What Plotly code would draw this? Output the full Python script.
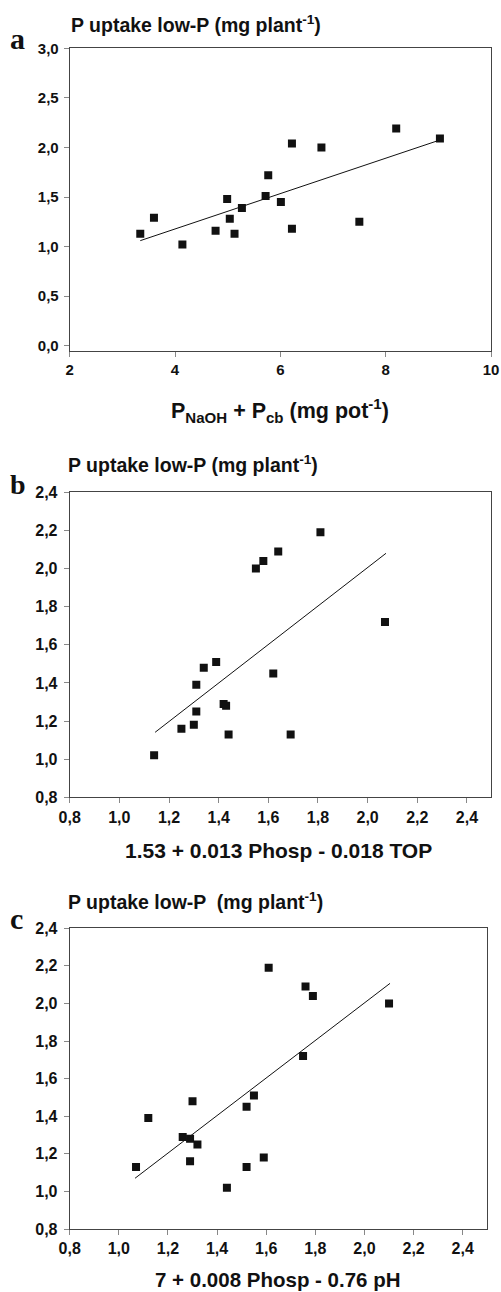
import plotly.graph_objects as go

# ---- data ----
xa = [3.34, 3.60, 4.14, 4.77, 4.99, 5.04, 5.13, 5.27, 5.72, 5.77, 6.01, 6.22, 6.22, 6.78, 7.50, 8.20, 9.03]
ya = [1.13, 1.29, 1.02, 1.16, 1.48, 1.28, 1.13, 1.39, 1.51, 1.72, 1.45, 2.04, 1.18, 2.00, 1.25, 2.19, 2.09]
fit_a_x = [3.34, 9.03]
fit_a_y = [1.06, 2.075]

xb = [1.14, 1.25, 1.30, 1.31, 1.31, 1.34, 1.39, 1.42, 1.43, 1.44, 1.55, 1.58, 1.64, 1.62, 1.69, 1.81, 2.07]
yb = [1.02, 1.16, 1.18, 1.25, 1.39, 1.48, 1.51, 1.29, 1.28, 1.13, 2.00, 2.04, 2.09, 1.45, 1.13, 2.19, 1.72]
fit_b_x = [1.144, 2.074]
fit_b_y = [1.141, 2.08]

xc = [1.07, 1.12, 1.26, 1.29, 1.29, 1.30, 1.32, 1.44, 1.52, 1.52, 1.55, 1.59, 1.61, 1.75, 1.76, 1.79, 2.10]
yc = [1.13, 1.39, 1.29, 1.28, 1.16, 1.48, 1.25, 1.02, 1.45, 1.13, 1.51, 1.18, 2.19, 1.72, 2.09, 2.04, 2.00]
fit_c_x = [1.066, 2.104]
fit_c_y = [1.07, 2.107]

y_title = "P uptake low-P (mg plant<sup>-1</sup>)"
y_title_c = "P uptake low-P  (mg plant<sup>-1</sup>)"
x_title_a = "P<sub>NaOH</sub> + P<sub>cb</sub> (mg pot<sup>-1</sup>)"
x_title_b = "1.53 + 0.013 Phosp - 0.018 TOP"
x_title_c = "7 + 0.008 Phosp - 0.76 pH"

W, H = 501, 1292
def px(x):
    return x / W
def py(y):
    return 1 - y / H

FONT = "Liberation Sans, Arial, sans-serif"
SERIF = "Liberation Serif, Times New Roman, serif"
TXT = "#111111"

fig = go.Figure()
panels = [
    ("", xa, ya, fit_a_x, fit_a_y),
    ("2", xb, yb, fit_b_x, fit_b_y),
    ("3", xc, yc, fit_c_x, fit_c_y),
]
for sfx, xs, ys, fx, fy in panels:
    fig.add_trace(go.Scatter(x=fx, y=fy, mode="lines", line=dict(color="#111111", width=1),
                             xaxis="x" + sfx, yaxis="y" + sfx, showlegend=False, hoverinfo="skip"))
    fig.add_trace(go.Scatter(x=xs, y=ys, mode="markers",
                             marker=dict(symbol="square", size=8, color="#111111", line=dict(width=0)),
                             xaxis="x" + sfx, yaxis="y" + sfx, showlegend=False))

def tf(sz):
    return dict(family=FONT, size=sz, color=TXT, weight="bold")

common = dict(showgrid=False, zeroline=False, showline=True, mirror=True, linecolor="#444444",
              linewidth=1, ticks="outside", ticklen=5, tickcolor="#888888", tickwidth=1,
              automargin=False, ticklabeloverflow="allow")

layout = dict(
    template="none",
    width=W, height=H, margin=dict(l=0, r=0, t=0, b=0, pad=0), autosize=False,
    paper_bgcolor="white", plot_bgcolor="white", separators=",.",
    xaxis=dict(common, domain=[px(69.7), px(491)], range=[2, 10], tick0=2, dtick=2, anchor="y",
               tickformat="d", tickfont=tf(15)),
    yaxis=dict(common, domain=[py(350.7), py(48.3)], range=[-0.05, 3.0], tick0=0, dtick=0.5, anchor="x",
               tickformat=".1f", tickfont=tf(15), ticklabelstandoff=2),
    xaxis2=dict(common, domain=[px(69.7), px(491)], range=[0.8, 2.497], tick0=0.8, dtick=0.2, anchor="y2",
                tickformat=".1f", tickfont=tf(16)),
    yaxis2=dict(common, domain=[py(797.3), py(492.3)], range=[0.8, 2.4], tick0=0.8, dtick=0.2, anchor="x2",
                tickformat=".1f", tickfont=tf(16), ticklabelstandoff=3),
    xaxis3=dict(common, domain=[px(69.7), px(487.3)], range=[0.8, 2.5], tick0=0.8, dtick=0.2, anchor="y3",
                tickformat=".1f", tickfont=tf(16)),
    yaxis3=dict(common, domain=[py(1229), py(928.3)], range=[0.8, 2.4], tick0=0.8, dtick=0.2, anchor="x3",
                tickformat=".1f", tickfont=tf(16), ticklabelstandoff=3),
)
fig.update_layout(**layout)

ann = []
def text(t, x, y, size, xanchor="left", family=FONT):
    ann.append(dict(text="<b>" + t + "</b>", x=px(x), y=py(y), xref="paper", yref="paper",
                    xanchor=xanchor, yanchor="middle", showarrow=False,
                    font=dict(family=family, size=size, color=TXT)))

text(y_title, 69, 24, 19.5)
text(y_title, 66, 464, 19.5)
text(y_title_c, 66, 901, 19.5)
text("a", 8, 38, 30, family=SERIF)
text("b", 8, 484, 28, family=SERIF)
text("c", 8, 918, 30, family=SERIF)
text(x_title_a, 280, 410, 21.5, xanchor="center")
text(x_title_b, 278, 850, 21, xanchor="center")
text(x_title_c, 278, 1279, 20.5, xanchor="center")
fig.update_layout(annotations=ann)

fig.write_html("out.html", config={"displayModeBar": False, "staticPlot": True},
               post_script="document.body.style.margin='0';document.body.style.overflow='hidden';")
